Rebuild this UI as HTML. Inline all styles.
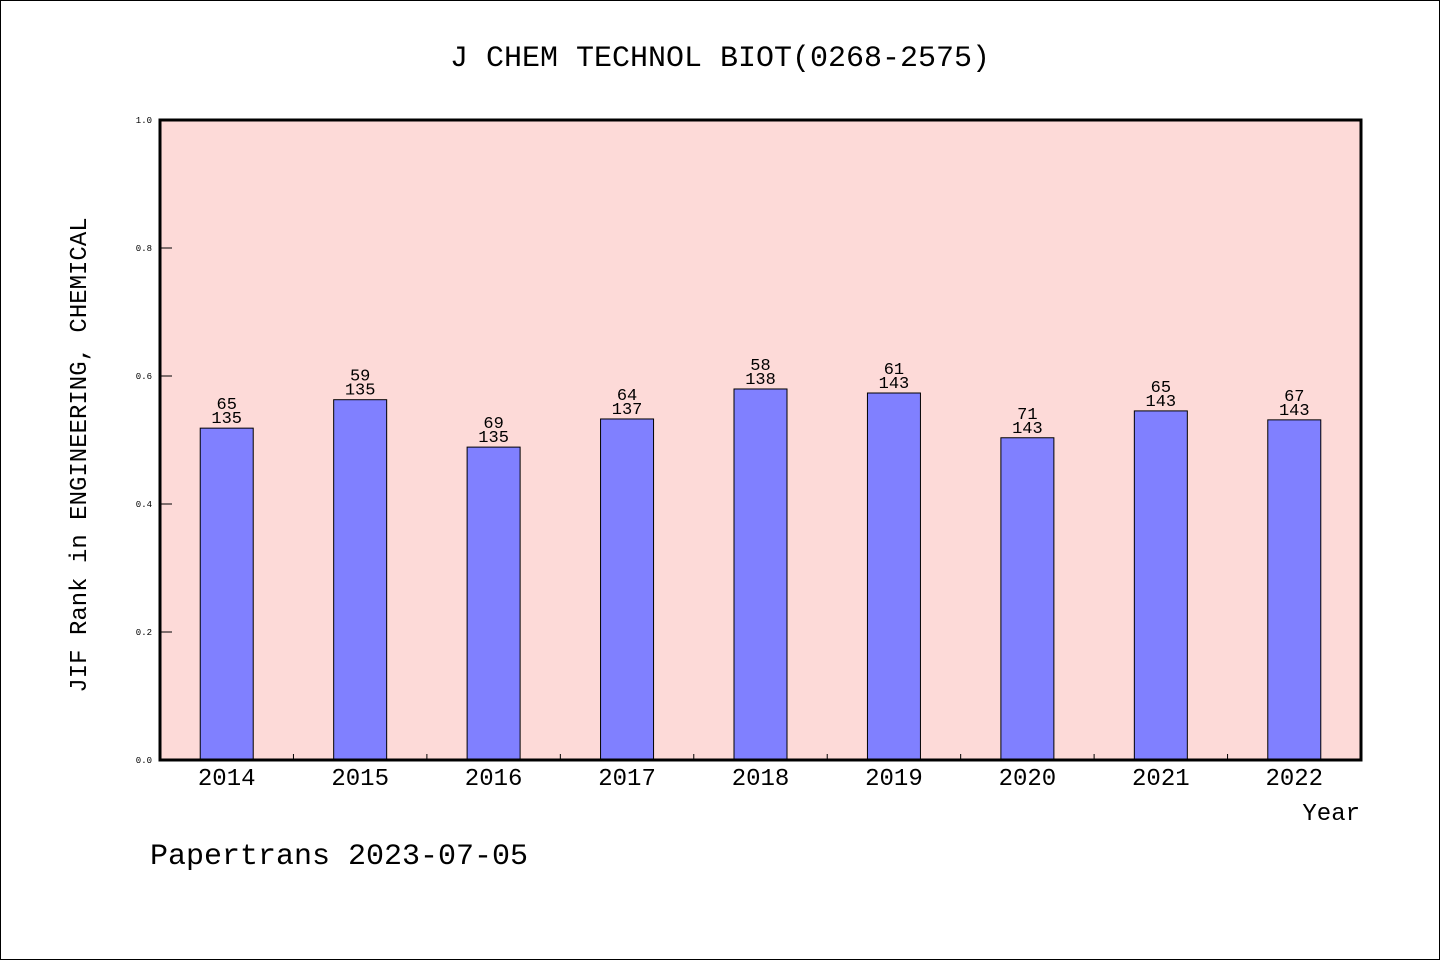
<!DOCTYPE html>
<html><head><meta charset="utf-8"><style>
body{margin:0;background:#fff}
svg text{font-family:"WenQuanYi Zen Hei","Liberation Mono",monospace;fill:#000}
</style></head><body>
<svg width="1440" height="960" xmlns="http://www.w3.org/2000/svg">
<rect x="0.5" y="0.5" width="1439" height="959" fill="#fff" stroke="#000"/>
<text x="720" y="66" font-size="30" text-anchor="middle">J CHEM TECHNOL BIOT(0268-2575)</text>
<rect x="160" y="120" width="1201" height="640" fill="#fddad8"/>
<g id="yaxis"></g>
<g id="bars"></g>
<rect x="160" y="120" width="1201" height="640" fill="none" stroke="#000" stroke-width="3"/>
<text transform="translate(86,455) rotate(-90)" font-size="24" text-anchor="middle">JIF Rank in ENGINEERING, CHEMICAL</text>
<text x="1360" y="820" font-size="24" text-anchor="end">Year</text>
<text x="150" y="864" font-size="30">Papertrans 2023-07-05</text>
</svg>
<script>
const years=["2014","2015","2016","2017","2018","2019","2020","2021","2022"];
const ranks=[65,59,69,64,58,61,71,65,67];
const totals=[135,135,135,137,138,143,143,143,143];
const yTicks=["0.0","0.2","0.4","0.6","0.8","1.0"];
const NS="http://www.w3.org/2000/svg";
const X0=160,X1=1361,Y0=760,Y1=120;
const band=(X1-X0)/years.length;
const y=v=>Y0-(Y0-Y1)*v;
const xc=i=>X0+band*(i+0.5);
function mk(t,a,p){const e=document.createElementNS(NS,t);for(const k in a)e.setAttribute(k,a[k]);p.appendChild(e);return e;}
const ya=document.getElementById('yaxis');
yTicks.forEach(t=>{const v=parseFloat(t);
const l=mk('line',{x1:X0,x2:X0+12,y1:y(v),y2:y(v),stroke:'#000'},ya);


const tx=mk('text',{x:X0-8,y:y(v)+3,'font-size':9,'text-anchor':'end'},ya);tx.textContent=t;


});
const g=document.getElementById('bars');
years.forEach((yr,i)=>{
const v=1-ranks[i]/totals[i];
const r=mk('rect',{x:xc(i)-26.5,y:y(v),width:53,height:Y0-y(v),fill:'#8080ff',stroke:'#000','stroke-width':1},g);


const t1=mk('text',{x:xc(i),y:y(v)-19,'font-size':17,'text-anchor':'middle'},g);t1.textContent=ranks[i];


const t2=mk('text',{x:xc(i),y:y(v)-5,'font-size':17,'text-anchor':'middle'},g);t2.textContent=totals[i];


const xl=mk('text',{x:xc(i),y:785,'font-size':24,'text-anchor':'middle'},g);xl.textContent=yr;


if(i>0){const tk=mk('line',{x1:X0+band*i,x2:X0+band*i,y1:Y0,y2:Y0-6,stroke:'#000'},g);

}
});
</script>
</body></html>
